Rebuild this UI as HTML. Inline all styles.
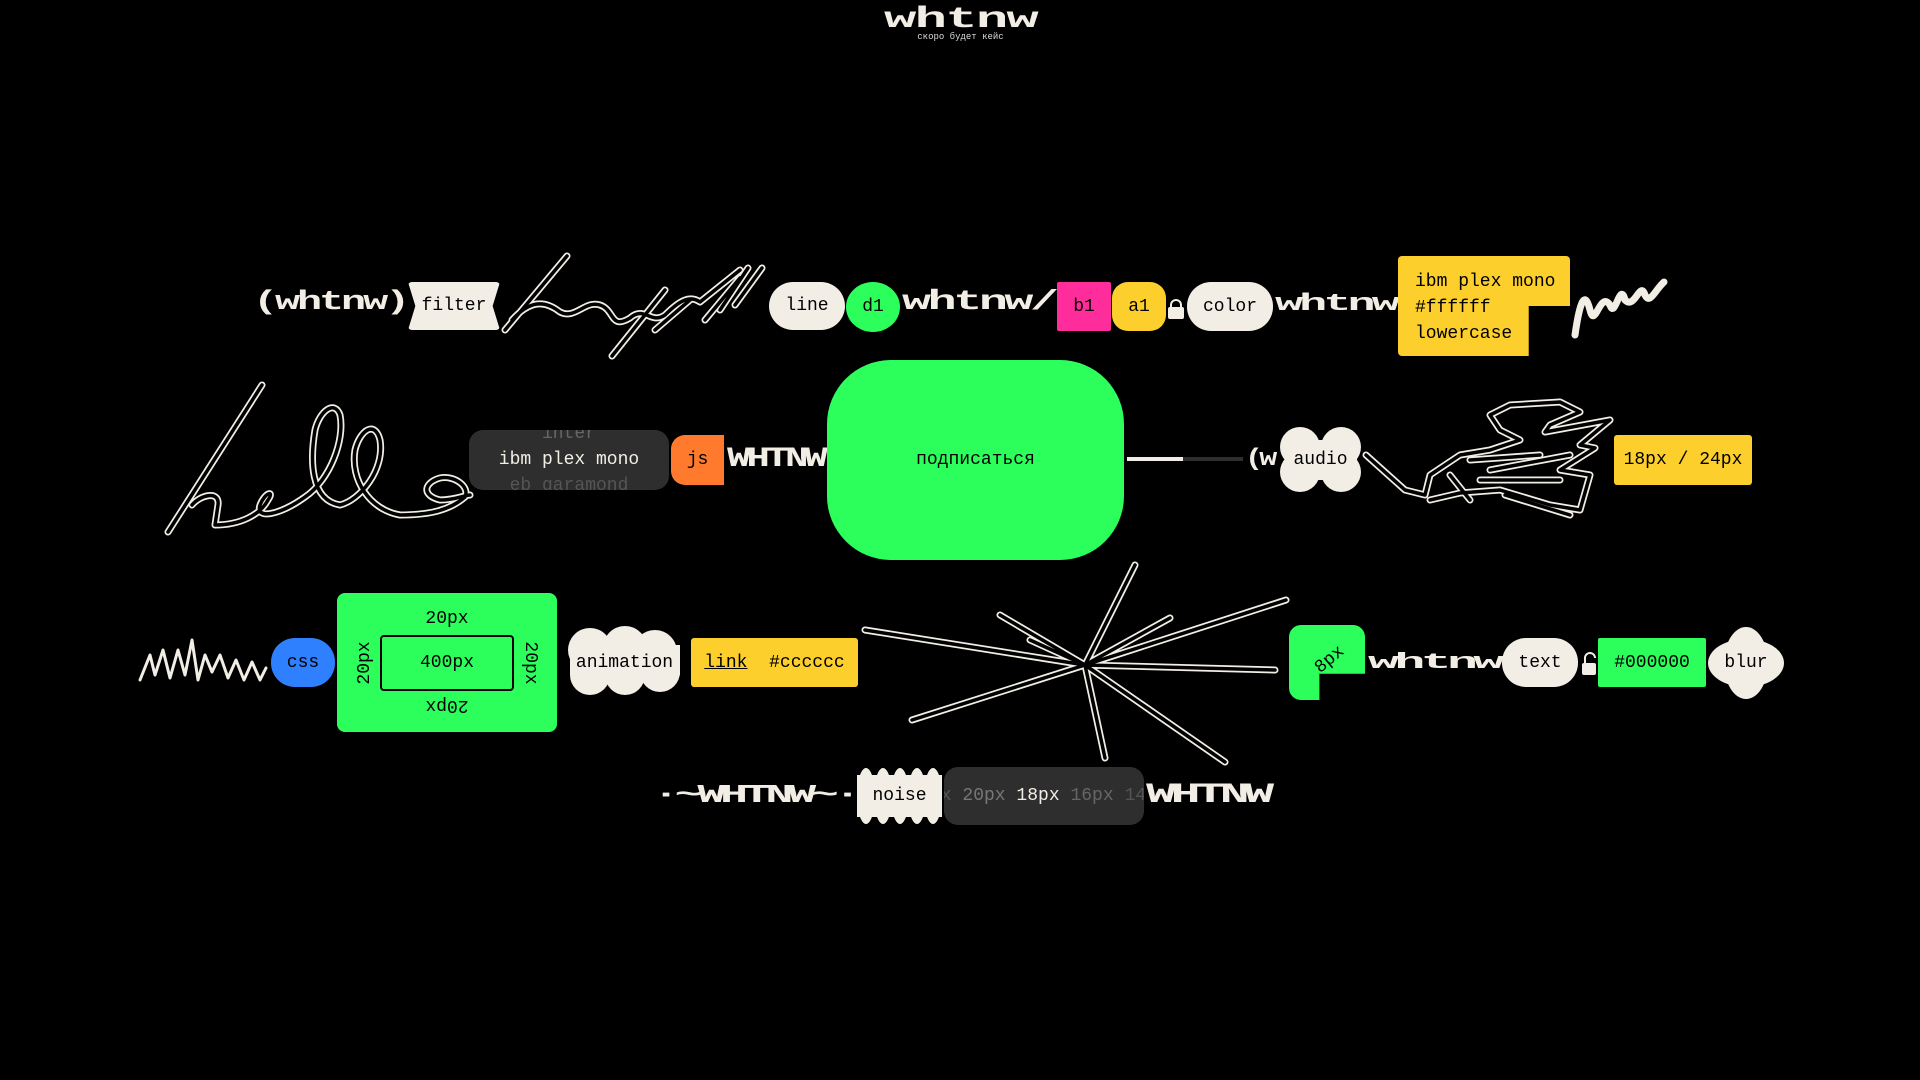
<!DOCTYPE html>
<html><head><meta charset="utf-8"><style>
*{margin:0;padding:0;box-sizing:border-box}
body{width:1920px;height:1080px;background:#000;position:relative;overflow:hidden;font-family:"Liberation Mono",monospace;color:#000}
.a{position:absolute;display:flex;align-items:center;justify-content:center;font-size:18px;white-space:nowrap}
.c{background:#f2eee6}
.g{background:#2cff5c}
.y{background:#fccf2c}
.logo{position:absolute;color:#f2eee6;font-family:"Liberation Mono",monospace;font-weight:bold;white-space:nowrap;line-height:1;transform-origin:0 0}
svg{position:absolute;left:0;top:0}
</style></head><body>

<!-- header -->
<div class="logo" style="left:884px;top:5px;font-size:30px;letter-spacing:-1px;transform:scaleX(1.8)">whtnw</div>
<div class="a" style="left:884px;top:31px;width:153px;height:12px;font-size:9px;color:#ddd">скоро будет кейс</div>

<!-- Row 1 -->
<div class="logo" style="left:253px;top:290px;font-size:27px;letter-spacing:-2px;transform:scaleX(1.55)">(whtnw)</div>
<div class="a c" style="left:408px;top:282px;width:92px;height:48px;clip-path:polygon(8% 0,100% 0,92% 50%,100% 100%,0 100%,8% 50%,0 0);border-radius:4px">filter</div>
<div class="a c" style="left:769px;top:282px;width:76px;height:48px;border-radius:24px">line</div>
<div class="a g" style="left:846px;top:282px;width:54px;height:50px;border-radius:50%">d1</div>
<div class="logo" style="left:902px;top:289px;font-size:28px;letter-spacing:-2px;transform:scaleX(1.73)">whtnw/</div>
<div class="a" style="left:1057px;top:282px;width:54px;height:49px;background:#ff2d9b;border-radius:2px">b1</div>
<div class="a y" style="left:1112px;top:282px;width:54px;height:49px;border-radius:16px">a1</div>
<div style="position:absolute;left:1170px;top:299px;width:12px;height:10px;border:2px solid #f2eee6;border-bottom:none;border-radius:6px 6px 0 0"></div>
<div style="position:absolute;left:1168px;top:307px;width:16px;height:12px;background:#f2eee6;border-radius:2px"></div>
<div class="a c" style="left:1187px;top:282px;width:86px;height:49px;border-radius:24px">color</div>
<div class="logo" style="left:1275px;top:293px;font-size:24px;letter-spacing:-2px;transform:scaleX(1.95)">whtnw</div>
<div style="position:absolute;left:1398px;top:256px;width:172px;height:100px;background:#fccf2c;border-radius:4px;clip-path:polygon(0 0,100% 0,100% 50%,76% 50%,76% 100%,0 100%)"></div>
<div style="position:absolute;left:1415px;top:269px;font-size:18px;line-height:26px;color:#000">ibm plex mono<br>#ffffff<br>lowercase</div>

<!-- Row 2 -->
<div class="a" style="left:469px;top:430px;width:200px;height:60px;background:#2e2e2e;border-radius:14px;overflow:hidden;flex-direction:column;line-height:26px">
<span style="color:#666">inter</span><span style="color:#f2eee6">ibm plex mono</span><span style="color:#555">eb garamond</span></div>
<div class="a" style="left:671px;top:435px;width:53px;height:50px;background:#ff7a2c;border-radius:14px 0 0 14px">js</div>
<div class="logo" style="left:727px;top:446px;font-size:28px;letter-spacing:-3px;transform:scaleX(1.4)">WHTNW</div>
<div class="a g" style="left:827px;top:360px;width:297px;height:200px;border-radius:64px">подписаться</div>
<div style="position:absolute;left:1127px;top:457px;width:56px;height:4px;background:#f2eee6"></div>
<div style="position:absolute;left:1183px;top:457px;width:60px;height:4px;background:#2e2e2e"></div>
<div class="logo" style="left:1245px;top:448px;font-size:24px;letter-spacing:-3px;transform:scaleX(1.25)">(w</div>
<svg width="1920" height="1080" style="pointer-events:none">
<g fill="#f2eee6">
<circle cx="1300" cy="447" r="20"/><circle cx="1341" cy="447" r="20"/><circle cx="1300" cy="472" r="20"/><circle cx="1341" cy="472" r="20"/><rect x="1285" y="440" width="72" height="40"/>
<!-- animation cloud -->
<circle cx="590" cy="650" r="22"/><circle cx="625" cy="648" r="22"/><circle cx="655" cy="652" r="22"/><circle cx="590" cy="675" r="20"/><circle cx="625" cy="675" r="20"/><circle cx="660" cy="672" r="20"/><rect x="570" y="645" width="110" height="30"/>
<!-- noise -->
<rect x="857" y="775" width="85" height="42"/>
<ellipse cx="866" cy="796" rx="9" ry="28"/><ellipse cx="883" cy="796" rx="9" ry="28"/><ellipse cx="900" cy="796" rx="9" ry="28"/><ellipse cx="917" cy="796" rx="9" ry="28"/><ellipse cx="933" cy="796" rx="9" ry="28"/>
<!-- blur -->
<ellipse cx="1746" cy="663" rx="38" ry="24"/><ellipse cx="1746" cy="663" rx="22" ry="36"/>
<rect x="1582" y="663" width="14" height="12" rx="2"/>
</g>
<path d="M1585 664 v-6 a5 5 0 0 1 10 0" stroke="#f2eee6" stroke-width="2" fill="none"/>

<g fill="none" stroke-linejoin="round" stroke-linecap="round">
<g stroke="#f2eee6" stroke-width="7">
<path d="M567 256 L505 330 M512 320 C530 300 545 300 560 312 C575 320 585 300 600 305 C615 310 610 330 630 318 C645 305 650 325 665 315 C680 300 690 295 700 302 L740 270 M740 278 L705 320 M748 268 L720 310 M762 268 L735 305 M665 290 L612 356 M690 300 L655 330"/>
<path d="M1575 335 C1580 300 1585 290 1590 310 C1595 330 1600 290 1610 305 C1615 320 1620 280 1625 300 C1635 310 1640 280 1645 295 C1650 305 1655 290 1664 282"/>
<path d="M168 532 L262 385 M192 505 C200 495 220 490 218 505 L215 525 C240 525 260 515 268 500 C275 490 265 492 260 505 C255 520 280 515 305 497 C330 480 345 440 340 415 C335 400 320 410 315 430 C310 460 310 500 340 505 C360 500 385 470 380 440 C375 420 360 430 355 450 C350 480 370 510 400 515 C430 515 450 510 465 497 C470 487 455 475 440 478 C425 482 420 495 440 500 C455 500 465 495 470 495"/>
<path d="M1366 455 L1405 490 L1425 495 L1430 475 L1460 455 L1490 450 L1520 440 L1500 430 L1490 415 L1510 405 L1560 402 L1580 412 L1550 425 L1545 432 L1610 420 L1580 445 L1595 448 L1560 470 L1590 475 L1580 510 L1550 505 L1500 490 L1460 493 L1430 500 M1480 480 L1560 480 M1490 470 L1570 455 M1470 460 L1540 455 M1450 475 L1470 500 M1505 495 L1570 515"/>
<path d="M1085 665 L1135 565 M1085 665 L1286 600 M1085 665 L865 630 M1085 665 L1275 670 M1085 665 L912 720 M1085 665 L1225 762 M1085 665 L1105 758 M1085 665 L1000 615 M1085 665 L1170 618 M1085 665 L1030 640"/>
<path d="M140 680 L150 655 L155 675 L163 650 L170 678 L178 650 L185 675 L192 640 L198 680 L205 655 L212 672 L220 655 L228 678 L236 660 L244 680 L252 662 L260 680 L266 668" stroke-width="3"/>
</g>
<g stroke="#000" stroke-width="3.5">
<path d="M567 256 L505 330 M512 320 C530 300 545 300 560 312 C575 320 585 300 600 305 C615 310 610 330 630 318 C645 305 650 325 665 315 C680 300 690 295 700 302 L740 270 M740 278 L705 320 M748 268 L720 310 M762 268 L735 305 M665 290 L612 356 M690 300 L655 330"/>
<path d="M168 532 L262 385 M192 505 C200 495 220 490 218 505 L215 525 C240 525 260 515 268 500 C275 490 265 492 260 505 C255 520 280 515 305 497 C330 480 345 440 340 415 C335 400 320 410 315 430 C310 460 310 500 340 505 C360 500 385 470 380 440 C375 420 360 430 355 450 C350 480 370 510 400 515 C430 515 450 510 465 497 C470 487 455 475 440 478 C425 482 420 495 440 500 C455 500 465 495 470 495"/>
<path d="M1366 455 L1405 490 L1425 495 L1430 475 L1460 455 L1490 450 L1520 440 L1500 430 L1490 415 L1510 405 L1560 402 L1580 412 L1550 425 L1545 432 L1610 420 L1580 445 L1595 448 L1560 470 L1590 475 L1580 510 L1550 505 L1500 490 L1460 493 L1430 500 M1480 480 L1560 480 M1490 470 L1570 455 M1470 460 L1540 455 M1450 475 L1470 500 M1505 495 L1570 515"/>
<path d="M1085 665 L1135 565 M1085 665 L1286 600 M1085 665 L865 630 M1085 665 L1275 670 M1085 665 L912 720 M1085 665 L1225 762 M1085 665 L1105 758 M1085 665 L1000 615 M1085 665 L1170 618 M1085 665 L1030 640"/>
</g>
</g>
</svg>
<div class="a" style="left:1277px;top:429px;width:87px;height:62px">audio</div>
<div class="a y" style="left:1614px;top:435px;width:138px;height:50px;border-radius:3px">18px / 24px</div>

<!-- Row 3 -->
<div class="a" style="left:271px;top:638px;width:64px;height:49px;background:#2f80ff;border-radius:24px">css</div>
<div class="a g" style="left:337px;top:593px;width:220px;height:139px;border-radius:8px"></div>
<div class="a" style="left:337px;top:604px;width:220px;height:30px">20px</div>
<div class="a" style="left:337px;top:690px;width:220px;height:30px;transform:rotate(180deg)">20px</div>
<div class="a" style="left:340px;top:648px;width:50px;height:30px;transform:rotate(-90deg)">20px</div>
<div class="a" style="left:505px;top:648px;width:50px;height:30px;transform:rotate(90deg)">20px</div>
<div class="a" style="left:380px;top:635px;width:134px;height:56px;border:2px solid #000;border-radius:4px">400px</div>
<div class="a" style="left:560px;top:631px;width:129px;height:64px">animation</div>
<div class="a y" style="left:691px;top:638px;width:167px;height:49px;border-radius:3px"><span style="text-decoration:underline">link</span>&nbsp;&nbsp;#cccccc</div>
<div style="position:absolute;left:1289px;top:625px;width:76px;height:75px;background:#2cff5c;border-radius:12px;clip-path:polygon(0 0,100% 0,100% 65%,40% 65%,40% 100%,0 100%)"></div>
<div class="a" style="left:1300px;top:648px;width:60px;height:24px;transform:rotate(-40deg)">8px</div>
<div class="logo" style="left:1368px;top:652px;font-size:22px;letter-spacing:-2px;transform:scaleX(2.35)">whtnw</div>
<div class="a c" style="left:1502px;top:638px;width:76px;height:49px;border-radius:24px">text</div>
<div class="a g" style="left:1598px;top:638px;width:108px;height:49px;border-radius:2px">#000000</div>
<div class="a" style="left:1708px;top:627px;width:76px;height:72px">blur</div>

<!-- Row 4 -->
<div class="logo" style="left:652px;top:782px;font-size:26px;letter-spacing:-3px;transform:scaleX(1.8)">·~WHTNW~·</div>
<div class="a" style="left:857px;top:767px;width:85px;height:57px">noise</div>
<div class="a" style="left:944px;top:767px;width:200px;height:58px;background:#2e2e2e;border-radius:14px;overflow:hidden;justify-content:flex-start">
<span style="margin-left:-14px;color:#555">px&nbsp;</span><span style="color:#777">20px&nbsp;</span><span style="color:#f2eee6">18px&nbsp;</span><span style="color:#666">16px&nbsp;</span><span style="color:#555">14</span></div>
<div class="logo" style="left:1146px;top:782px;font-size:28px;letter-spacing:-3px;transform:scaleX(1.78)">WHTNW</div>
</body></html>
